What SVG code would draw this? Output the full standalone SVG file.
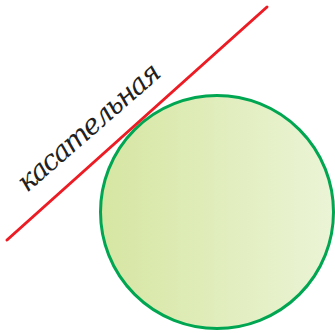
<svg xmlns="http://www.w3.org/2000/svg" width="335" height="333" viewBox="0 0 335 333">
<defs>
<linearGradient id="fill" x1="0" y1="0" x2="1" y2="0">
<stop offset="0" stop-color="#d6e6a2"/>
<stop offset="1" stop-color="#ebf4d6"/>
</linearGradient>
<style>
.circ{fill:url(#fill);stroke:#00a651;stroke-width:3}
.tan{stroke:#ed1c24;stroke-width:3;fill:none;stroke-linecap:round}
</style>
</defs>
<g id="circle">
<circle class="circ" cx="217" cy="212" r="116.5"/>
</g>
<g id="connectors">
<line class="tan" x1="7" y1="240" x2="267" y2="7"/>
</g>
<g id="label">
<text font-family="DejaVu Serif, serif" font-style="italic" font-size="28" fill="#231f20" transform="translate(27,193) rotate(-41)" textLength="180" lengthAdjust="spacing">касательная</text>
</g>
</svg>
